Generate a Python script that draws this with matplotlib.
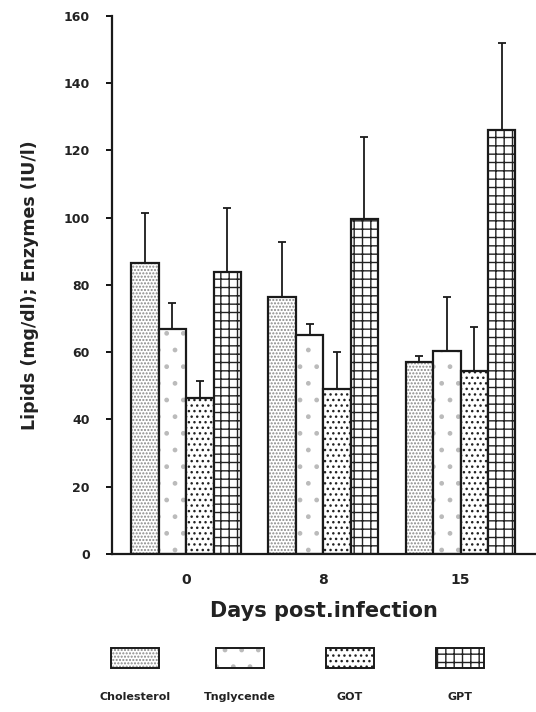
import numpy as np
import matplotlib
matplotlib.use('Agg')
import matplotlib.pyplot as plt
from matplotlib.patches import Rectangle

# dados
dias = ['0', '8', '15']
series = ['Cholesterol', 'Triglyceride', 'GOT', 'GPT']
rotulos_legenda = ['Cholesterol', 'Tnglycende', 'GOT', 'GPT']
colesterol = [86.5, 76.5, 57]
triglicerides = [67, 65, 60.5]
got = [46.5, 49, 54.5]
gpt = [84, 99.5, 126]
erro_colesterol = [14.8, 16.3, 2]
erro_triglicerides = [7.7, 3.5, 16]
erro_got = [5, 11, 13]
erro_gpt = [19, 24.5, 26]

valores = [colesterol, triglicerides, got, gpt]
erros = [erro_colesterol, erro_triglicerides, erro_got, erro_gpt]
hachuras = ['.....', '.', '...', '++']
cores_hachura = ['#888888', '#bbbbbb', '#222222', '#222222']

plt.rcParams['font.family'] = ['DejaVu Sans']
plt.rcParams['hatch.linewidth'] = 1.0

fig = plt.figure(figsize=(5.36, 7.12), dpi=100)
ax = fig.add_axes([0.209, 0.222, 0.791, 0.7555])

x = np.arange(len(dias))
w = 0.2
for k in range(4):
    pos = x + (k - 1.5) * w
    for h in range(len(dias)):
        ax.bar(pos[h], valores[k][h], w, color='white', edgecolor=cores_hachura[k],
               hatch=hachuras[k], linewidth=0)
        ax.bar(pos[h], valores[k][h], w, color='none', edgecolor='#1a1a1a', linewidth=1.6)
    ax.errorbar(pos, valores[k], yerr=[np.zeros(3), erros[k]], fmt='none',
                ecolor='#1a1a1a', elinewidth=1.3, capsize=3, capthick=1.3)

ax.set_ylim(0, 160)
ax.set_xlim(-0.54, 2.55)
ax.set_yticks(range(0, 161, 20))
ax.set_xticks(x)
ax.set_xticklabels(dias)
for s in ['top', 'right']:
    ax.spines[s].set_visible(False)
for s in ['left', 'bottom']:
    ax.spines[s].set_linewidth(1.6)
    ax.spines[s].set_color('#1a1a1a')
ax.tick_params(axis='y', direction='out', length=4, width=1.3, labelsize=9, pad=12)
ax.tick_params(axis='x', length=0, labelsize=10, pad=14)
for t in ax.get_yticklabels() + ax.get_xticklabels():
    t.set_fontweight('bold')
    t.set_color('#222222')
ax.set_ylabel('Lipids (mg/dl); Enzymes (IU/l)', fontsize=12.5, fontweight='bold',
              color='#222222', labelpad=18)
ax.set_xlabel('Days post.infection', fontsize=15, fontweight='bold', color='#222222',
              labelpad=10)

# legenda desenhada a mao: caixas com o rotulo embaixo
lg = fig.add_axes([0, 0, 1, 0.12])
lg.set_xlim(0, 536)
lg.set_ylim(85.44, 0)
lg.axis('off')
centros = [135, 240, 350, 460]
for k in range(4):
    lg.add_patch(Rectangle((centros[k] - 24, 21), 48, 20, facecolor='white',
                           edgecolor=cores_hachura[k], hatch=hachuras[k], linewidth=0))
    lg.add_patch(Rectangle((centros[k] - 24, 21), 48, 20, facecolor='none',
                           edgecolor='#1a1a1a', linewidth=1.4))
    lg.text(centros[k], 70, rotulos_legenda[k], ha='center', va='center',
            fontsize=8, fontweight='bold', color='#222222')

fig.savefig('out.png', dpi=100)
